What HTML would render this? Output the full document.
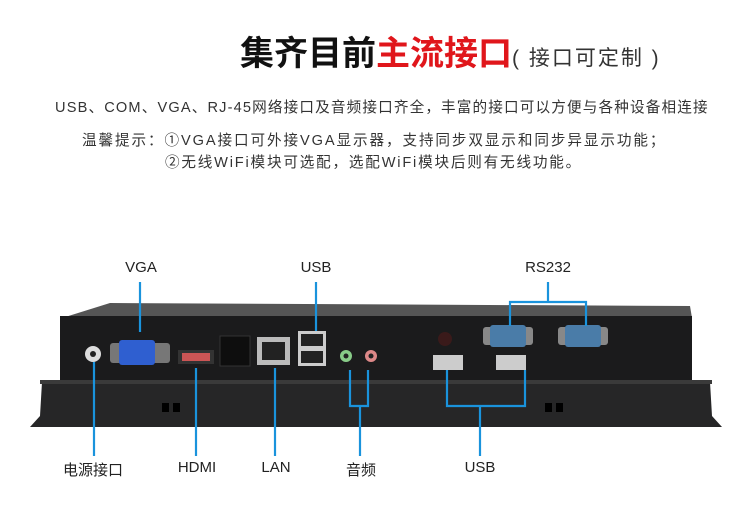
<!DOCTYPE html>
<html><head><meta charset="utf-8"><style>
body{margin:0;width:750px;height:510px;background:#fff;position:relative;overflow:hidden;font-family:"Liberation Sans","Noto Sans CJK SC",sans-serif;color:#222}
.t{position:absolute;white-space:nowrap}
.c{transform:translateX(-50%)}
</style></head><body>
<div class="t" style="left:240px;top:26px;font-size:34px;font-weight:bold;letter-spacing:0px;color:#111">集齐目前<span style="color:#e0161b">主流接口</span><span style="font-size:21px;font-weight:normal;color:#333;letter-spacing:2px">( 接口可定制 )</span></div>
<div class="t" style="left:55px;top:96px;font-size:14.6px;letter-spacing:1.15px;color:#333">USB、COM、VGA、RJ-45网络接口及音频接口齐全，丰富的接口可以方便与各种设备相连接</div>
<div class="t" style="left:82px;top:129px;font-size:14.6px;letter-spacing:1.9px;color:#333">温馨提示：①VGA接口可外接VGA显示器，支持同步双显示和同步异显示功能；</div>
<div class="t" style="left:165px;top:151px;font-size:14.6px;letter-spacing:1.8px;color:#333">②无线WiFi模块可选配，选配WiFi模块后则有无线功能。</div>

<div class="t c" style="left:141px;top:259px;font-size:15px">VGA</div>
<div class="t c" style="left:316px;top:259px;font-size:15px">USB</div>
<div class="t c" style="left:548px;top:259px;font-size:15px">RS232</div>
<div class="t c" style="left:93px;top:459px;font-size:15px">电源接口</div>
<div class="t c" style="left:197px;top:459px;font-size:15px">HDMI</div>
<div class="t c" style="left:276px;top:459px;font-size:15px">LAN</div>
<div class="t c" style="left:361px;top:459px;font-size:15px">音频</div>
<div class="t c" style="left:480px;top:459px;font-size:15px">USB</div>

<svg width="750" height="510" style="position:absolute;left:0;top:0">
<polygon points="62,318 110,303 690,306 692,318" fill="#555"/>
<rect x="60" y="316" width="632" height="66" fill="#1b1b1c"/>
<polygon points="42,382 710,382 712,416 722,427 30,427 40,416" fill="#262627"/>
<rect x="40" y="380" width="672" height="4" fill="#3a3a3a"/>
<circle cx="93" cy="354" r="8" fill="#ddd"/><circle cx="93" cy="354" r="3" fill="#222"/>
<rect x="110" y="343" width="60" height="20" rx="3" fill="#777"/>
<rect x="119" y="340" width="36" height="25" rx="3" fill="#2f5fd0"/>
<rect x="178" y="350" width="36" height="14" fill="#333"/><rect x="182" y="353" width="28" height="8" fill="#c55"/>
<rect x="220" y="336" width="30" height="30" fill="#0e0e0e" stroke="#333"/>
<rect x="257" y="337" width="33" height="28" fill="#bbb"/><rect x="262" y="342" width="23" height="18" fill="#222"/>
<rect x="298" y="331" width="28" height="35" fill="#ccc"/><rect x="301" y="334" width="22" height="12" fill="#222"/><rect x="301" y="351" width="22" height="12" fill="#222"/>
<circle cx="346" cy="356" r="6" fill="#8c8"/><circle cx="346" cy="356" r="2.5" fill="#222"/>
<circle cx="371" cy="356" r="6" fill="#d88"/><circle cx="371" cy="356" r="2.5" fill="#222"/>
<circle cx="445" cy="339" r="7" fill="#3a1a1a"/>
<rect x="433" y="355" width="30" height="15" fill="#ccc"/><rect x="496" y="355" width="30" height="15" fill="#ccc"/>
<rect x="483" y="327" width="50" height="18" rx="3" fill="#888"/><rect x="490" y="325" width="36" height="22" rx="3" fill="#4a7ca8"/>
<rect x="558" y="327" width="50" height="18" rx="3" fill="#888"/><rect x="565" y="325" width="36" height="22" rx="3" fill="#4a7ca8"/>
<rect x="162" y="403" width="7" height="9" fill="#000"/><rect x="173" y="403" width="7" height="9" fill="#000"/>
<rect x="545" y="403" width="7" height="9" fill="#000"/><rect x="556" y="403" width="7" height="9" fill="#000"/>
<g stroke="#1a93dc" stroke-width="2.2" fill="none">
<path d="M140,282V332"/><path d="M316,282V331"/>
<path d="M548,282V302M510,326V302H586V326"/>
<path d="M94,362V456"/><path d="M196,368V456"/><path d="M275,368V456"/>
<path d="M350,370V406H368V370M360,406V456"/>
<path d="M447,370V406H525V370M480,406V456"/>
</g>
</svg>
</body></html>
